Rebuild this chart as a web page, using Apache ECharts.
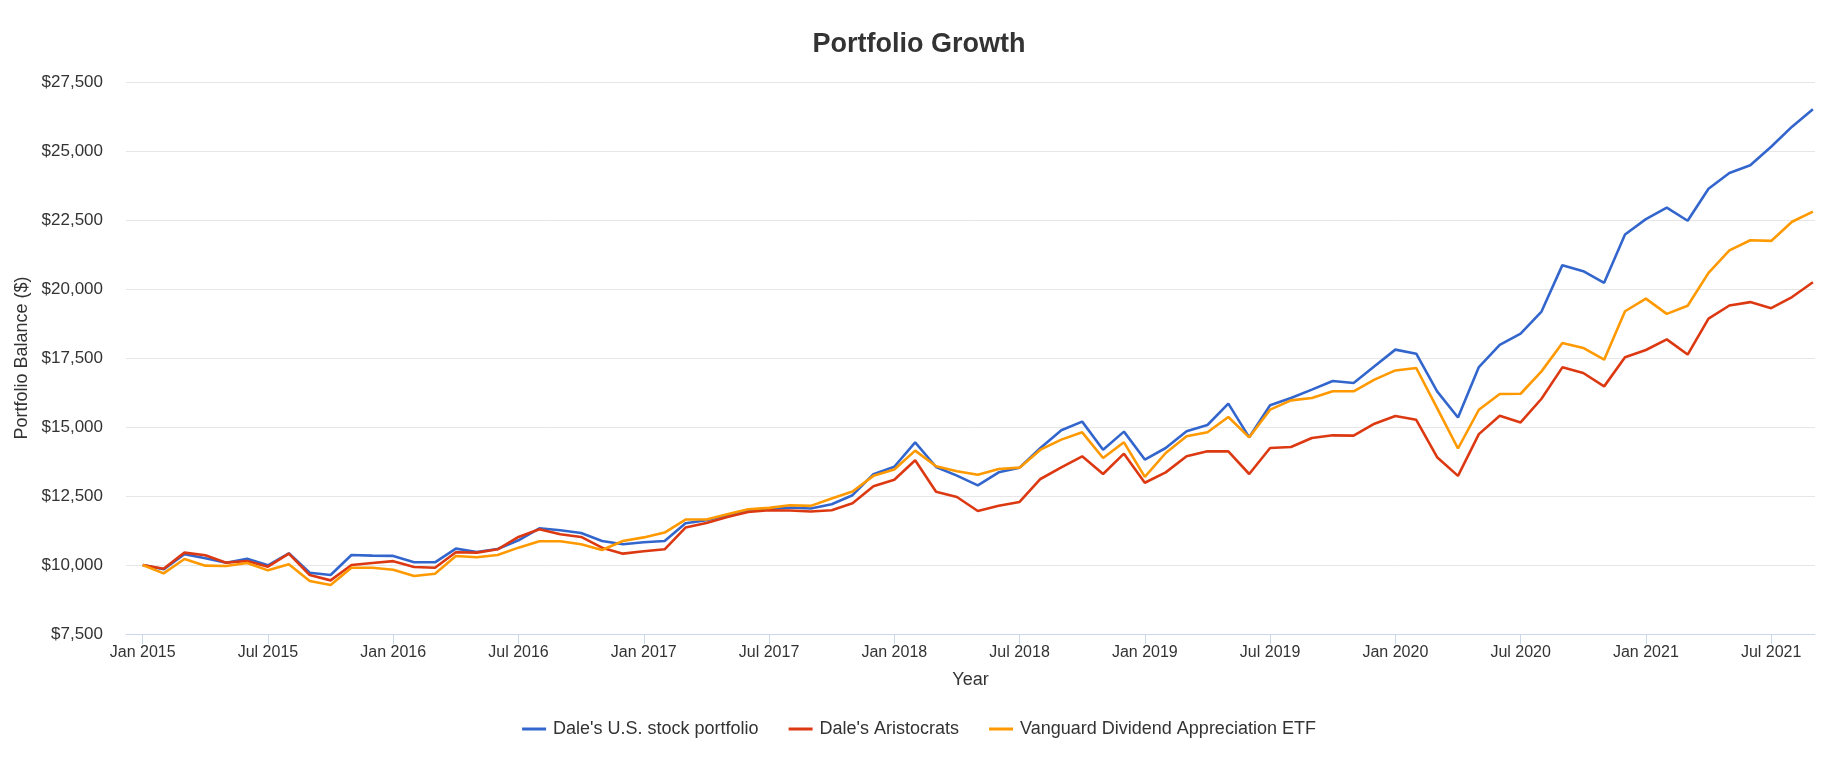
<!DOCTYPE html>
<html>
<head>
<meta charset="utf-8">
<script src="https://cdn.jsdelivr.net/npm/echarts@6/dist/echarts.min.js"></script>
<style>
html,body{margin:0;padding:0;background:#fff;}
#chart{width:1838px;height:758px;}
</style>
</head>
<body>
<div id="chart"></div>
<script>
// Tick labels on the x axis (every 6 months, month index 0 = Jan 2015)
const tickLabels = ['Jan 2015','Jul 2015','Jan 2016','Jul 2016','Jan 2017','Jul 2017','Jan 2018','Jul 2018','Jan 2019','Jul 2019','Jan 2020','Jul 2020','Jan 2021','Jul 2021'];
const tickIndex = [0,6,12,18,24,30,36,42,48,54,60,66,72,78];

const seriesNames = ["Dale's U.S. stock portfolio", "Dale's Aristocrats", "Vanguard Dividend Appreciation ETF"];

// Monthly values, Jan 2015 .. Sep 2021
const usStock = [10000,9843,10387,10242,10085,10230,9988,10424,9722,9637,10363,10339,
  10330,10097,10097,10593,10472,10581,10895,11331,11258,11162,10871,10750,
  10825,10871,11513,11621,11803,11960,12021,12081,12045,12202,12529,13291,
  13560,14445,13551,13237,12887,13358,13527,14240,14880,15194,14179,14832,
  13820,14239,14843,15072,15846,14626,15785,16051,16353,16667,16594,17199,
  17803,17657,16290,15346,17173,17972,18383,19182,20864,20646,20223,21977,
  22530,22948,22473,23630,24202,24482,25152,25883,26516];

const aristocrats = [10000,9867,10448,10351,10085,10145,9940,10411,9637,9443,10000,10073,
  10140,9927,9903,10460,10448,10569,11016,11295,11113,11016,10629,10411,
  10500,10569,11355,11525,11742,11924,11984,11972,11936,11984,12239,12856,
  13090,13793,12657,12464,11956,12150,12283,13116,13539,13938,13297,14034,
  12980,13357,13937,14118,14118,13297,14239,14275,14601,14698,14686,15121,
  15400,15262,13906,13229,14741,15407,15165,16024,17161,16956,16472,17524,
  17790,18173,17625,18928,19403,19525,19306,19708,20244];

const vig = [10000,9698,10218,9976,9964,10073,9806,10024,9419,9274,9903,9903,
  9830,9600,9685,10327,10278,10363,10629,10859,10859,10750,10545,10871,
  11000,11174,11646,11646,11839,12021,12069,12166,12142,12408,12662,13230,
  13458,14143,13575,13394,13273,13479,13527,14179,14542,14807,13877,14445,
  13195,14058,14662,14807,15362,14626,15628,15966,16051,16293,16293,16715,
  17050,17137,15685,14221,15625,16193,16205,17016,18045,17863,17440,19194,
  19650,19099,19391,20585,21401,21766,21742,22436,22801];

const colors = ['#3366cc', '#dc3912', '#ff9900'];

function toPairs(arr){ return arr.map((v,i)=>[i,v]); }
function money(v){ return '$' + String(v).replace(/\B(?=(\d{3})+(?!\d))/g, ','); }

const chart = echarts.init(document.getElementById('chart'), null, {renderer:'canvas'});
const font = 'Liberation Sans, Arial, sans-serif';

chart.setOption({
  animation: false,
  color: colors,
  title: {
    text: 'Portfolio Growth',
    left: 'center',
    top: 26,
    textStyle: {fontFamily: font, fontSize: 27, fontWeight: 'bold', color: '#333333'}
  },
  grid: {left: 126, right: 23, top: 82, bottom: 124, containLabel: false},
  legend: {
    bottom: 15,
    left: 'center',
    itemGap: 30,
    itemWidth: 24,
    itemHeight: 3,
    icon: 'rect',
    textStyle: {fontFamily: font, fontSize: 18, color: '#333333', padding: [0, 0, 0, 2]},
    data: seriesNames
  },
  xAxis: {
    type: 'value',
    min: -0.8,
    max: 80.1,
    name: 'Year',
    nameLocation: 'middle',
    nameGap: 37,
    nameTextStyle: {fontFamily: font, fontSize: 18, color: '#333333'},
    axisLine: {show: true, lineStyle: {color: '#ccd6eb', width: 1}},
    axisTick: {show: true, customValues: tickIndex, length: 10, lineStyle: {color: '#ccd6eb'}},
    axisLabel: {
      customValues: tickIndex,
      margin: 11,
      fontFamily: font, fontSize: 16, color: '#333333',
      formatter: function(v){ const k = tickIndex.indexOf(Math.round(v)); return k >= 0 ? tickLabels[k] : ''; }
    },
    splitLine: {show: false}
  },
  yAxis: {
    type: 'value',
    min: 7500,
    max: 27500,
    interval: 2500,
    name: 'Portfolio Balance ($)',
    nameLocation: 'middle',
    nameGap: 93,
    nameTextStyle: {fontFamily: font, fontSize: 18, color: '#333333'},
    axisLine: {show: false},
    axisTick: {show: false},
    axisLabel: {margin: 23, fontFamily: font, fontSize: 17, color: '#333333', formatter: money},
    splitLine: {lineStyle: {color: '#e6e6e6', width: 1}}
  },
  series: [
    {name: seriesNames[0], type: 'line', data: toPairs(usStock), showSymbol: false, symbol: 'none', lineStyle: {width: 2.6, color: colors[0]}, itemStyle: {color: colors[0]}},
    {name: seriesNames[1], type: 'line', data: toPairs(aristocrats), showSymbol: false, symbol: 'none', lineStyle: {width: 2.6, color: colors[1]}, itemStyle: {color: colors[1]}},
    {name: seriesNames[2], type: 'line', data: toPairs(vig), showSymbol: false, symbol: 'none', lineStyle: {width: 2.6, color: colors[2]}, itemStyle: {color: colors[2]}}
  ]
});
</script>
</body>
</html>
